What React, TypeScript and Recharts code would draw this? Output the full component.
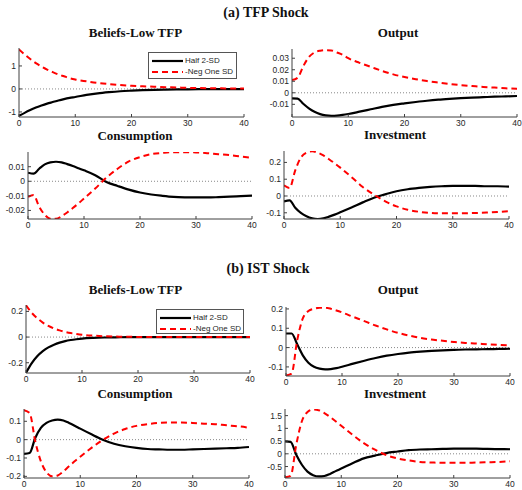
import { LineChart, Line, XAxis, YAxis, ReferenceLine } from 'recharts'

const periods = [0, 1, 2, 3, 4, 5, 6, 7, 8, 9, 10, 12, 14, 16, 18, 20, 22, 24, 26, 28, 30, 32, 34, 36, 38, 40]
const xTicks = [0, 10, 20, 30, 40]

// (a) TFP shock
const tfpBeliefsHalf = [-1.17, -1.04, -0.92, -0.81, -0.72, -0.64, -0.57, -0.5, -0.44, -0.39, -0.35, -0.26, -0.19, -0.14, -0.1, -0.075, -0.055, -0.04, -0.03, -0.022, -0.016, -0.012, -0.009, -0.007, -0.005, -0.004]
const tfpBeliefsNeg = [1.72, 1.5, 1.3, 1.12, 0.97, 0.84, 0.73, 0.63, 0.55, 0.47, 0.41, 0.33, 0.26, 0.21, 0.17, 0.14, 0.115, 0.095, 0.078, 0.064, 0.045, 0.037, 0.03, 0.025, 0.02, 0.016]
const tfpOutputHalf = [-0.0048, -0.005, -0.0095, -0.0135, -0.0165, -0.0185, -0.0196, -0.02, -0.0198, -0.0192, -0.0184, -0.0164, -0.0143, -0.0122, -0.0105, -0.0092, -0.008, -0.0069, -0.006, -0.0053, -0.0047, -0.0042, -0.0038, -0.0034, -0.0031, -0.0028]
const tfpOutputNeg = [0.011, 0.013, 0.023, 0.031, 0.035, 0.0365, 0.037, 0.0368, 0.035, 0.033, 0.03, 0.026, 0.0225, 0.019, 0.016, 0.0137, 0.0118, 0.0102, 0.0089, 0.0077, 0.0067, 0.0059, 0.0051, 0.0045, 0.0039, 0.0034]
const tfpConsHalf = [0.0059, 0.0052, 0.0086, 0.0116, 0.013, 0.0134, 0.013, 0.0118, 0.0105, 0.009, 0.0075, 0.0042, -0.0005, -0.0032, -0.0057, -0.0077, -0.0091, -0.01, -0.0107, -0.011, -0.0111, -0.0111, -0.0109, -0.0106, -0.0102, -0.0098]
const tfpConsNeg = [-0.0107, -0.0095, -0.0175, -0.023, -0.0257, -0.0257, -0.024, -0.0214, -0.0184, -0.0152, -0.0118, -0.005, 0.0025, 0.0086, 0.0136, 0.0166, 0.0186, 0.0195, 0.02, 0.02, 0.0198, 0.0193, 0.0186, 0.018, 0.017, 0.0161]
const tfpInvHalf = [-0.032, -0.026, -0.07, -0.101, -0.121, -0.133, -0.137, -0.133, -0.123, -0.111, -0.097, -0.068, -0.038, -0.01, 0.01, 0.028, 0.04, 0.048, 0.054, 0.058, 0.06, 0.06, 0.06, 0.058, 0.058, 0.056]
const tfpInvNeg = [0.064, 0.048, 0.153, 0.229, 0.258, 0.266, 0.258, 0.242, 0.219, 0.195, 0.169, 0.113, 0.054, 0.008, -0.032, -0.062, -0.082, -0.094, -0.101, -0.103, -0.103, -0.103, -0.101, -0.099, -0.095, -0.09]

// (b) IST shock
const istBeliefsHalf = [-0.279, -0.205, -0.15, -0.11, -0.08, -0.059, -0.043, -0.031, -0.023, -0.017, -0.012, -0.0065, -0.0035, -0.002, -0.001, -0.0005, -0.0003, -0.0002, -0.0001, 0, 0, 0, 0, 0, 0, 0]
const istBeliefsNeg = [0.248, 0.19, 0.147, 0.113, 0.087, 0.067, 0.052, 0.04, 0.031, 0.024, 0.018, 0.011, 0.0065, 0.004, 0.0023, 0.0014, 0.0008, 0.0005, 0.0003, 0.0002, 0.0001, 0, 0, 0, 0, 0]
const istOutputHalf = [0.073, 0.073, 0.017, -0.04, -0.078, -0.099, -0.109, -0.113, -0.111, -0.106, -0.099, -0.083, -0.068, -0.054, -0.042, -0.033, -0.026, -0.021, -0.017, -0.014, -0.012, -0.01, -0.009, -0.008, -0.007, -0.006]
const istOutputNeg = [-0.144, -0.135, 0.038, 0.151, 0.189, 0.201, 0.206, 0.206, 0.201, 0.192, 0.182, 0.159, 0.137, 0.114, 0.094, 0.076, 0.062, 0.05, 0.042, 0.035, 0.029, 0.024, 0.021, 0.017, 0.014, 0.012]
const istConsHalf = [-0.078, -0.073, 0.009, 0.064, 0.091, 0.104, 0.109, 0.104, 0.091, 0.076, 0.06, 0.029, 0.0, -0.022, -0.036, -0.045, -0.051, -0.053, -0.055, -0.055, -0.053, -0.051, -0.049, -0.047, -0.045, -0.04]
const istConsNeg = [0.16, 0.145, -0.009, -0.118, -0.178, -0.2, -0.195, -0.173, -0.145, -0.118, -0.093, -0.045, -0.002, 0.033, 0.058, 0.075, 0.085, 0.091, 0.093, 0.093, 0.091, 0.087, 0.084, 0.078, 0.073, 0.065]
const istInvHalf = [0.49, 0.47, -0.04, -0.43, -0.7, -0.84, -0.89, -0.87, -0.79, -0.68, -0.58, -0.37, -0.18, -0.07, 0.03, 0.09, 0.145, 0.17, 0.18, 0.19, 0.2, 0.2, 0.2, 0.19, 0.185, 0.18]
const istInvNeg = [-0.92, -0.87, 0.355, 1.28, 1.64, 1.74, 1.71, 1.6, 1.45, 1.28, 1.1, 0.75, 0.42, 0.16, -0.05, -0.18, -0.26, -0.32, -0.34, -0.355, -0.355, -0.355, -0.34, -0.33, -0.32, -0.29]

const YW = 40
const MT = 4
const MR = 8
const XH = 18
const tickStyle = { fontSize: 8.5, fill: '#262626', fontFamily: 'Liberation Sans, Arial, sans-serif' }
const titleFont = '"Liberation Serif", "Times New Roman", serif'

type PanelProps = {
  x0: number
  y0: number
  x1: number
  y1: number
  domain: [number, number]
  yTicks: number[]
  half: number[]
  neg: number[]
}

function Panel({ x0, y0, x1, y1, domain, yTicks, half, neg }: PanelProps) {
  const data = periods.map((t, i) => ({ t, half: half[i], neg: neg[i] }))
  const w = x1 - x0 + YW + MR
  const h = y1 - y0 + MT + XH
  return (
    <div style={{ position: 'absolute', left: x0 - YW, top: y0 - MT }}>
      <LineChart width={w} height={h} data={data} margin={{ top: MT, right: MR, left: 0, bottom: 0 }}>
        <XAxis
          dataKey='t'
          type='number'
          domain={[0, 40]}
          ticks={xTicks}
          height={XH}
          tick={tickStyle}
          tickSize={-3}
          tickMargin={6}
          stroke='#404040'
          allowDataOverflow
        />
        <YAxis
          type='number'
          domain={domain}
          ticks={yTicks}
          width={YW}
          tick={tickStyle}
          tickSize={-3}
          tickMargin={6}
          stroke='#404040'
          allowDataOverflow
          interval={0}
        />
        <ReferenceLine y={0} stroke='#888' strokeDasharray='1 2' strokeWidth={1} />
        <Line type='monotone' dataKey='half' stroke='#000' strokeWidth={2.2} dot={false} isAnimationActive={false} />
        <Line type='monotone' dataKey='neg' stroke='#ff0000' strokeWidth={2} strokeDasharray='6 4' dot={false} isAnimationActive={false} />
      </LineChart>
    </div>
  )
}

function Title({ text, cx, cy, size }: { text: string; cx: number; cy: number; size: number }) {
  return (
    <div
      style={{
        position: 'absolute',
        left: cx - 100,
        top: cy - 8,
        width: 200,
        lineHeight: '16px',
        textAlign: 'center',
        fontFamily: titleFont,
        fontWeight: 'bold',
        fontSize: size,
        color: '#111',
        whiteSpace: 'nowrap',
      }}
    >
      {text}
    </div>
  )
}

function LegendBox({ left, top, width, height }: { left: number; top: number; width: number; height: number }) {
  const row = (dash: boolean, color: string, label: string) => (
    <div style={{ display: 'flex', alignItems: 'center', height: 11, whiteSpace: 'nowrap' }}>
      <svg width={31} height={6} style={{ marginRight: 2, flexShrink: 0 }}>
        <line x1={0} y1={3} x2={31} y2={3} stroke={color} strokeWidth={2.2} strokeDasharray={dash ? '6 4' : undefined} />
      </svg>
      <span>{label}</span>
    </div>
  )
  return (
    <div
      style={{
        position: 'absolute',
        left,
        top,
        width,
        height,
        boxSizing: 'border-box',
        border: '1px solid #555',
        background: '#fff',
        padding: '2px 0 0 3px',
        fontFamily: 'Liberation Sans, Arial, sans-serif',
        fontSize: 8,
        color: '#262626',
      }}
    >
      {row(false, '#000', 'Half 2-SD')}
      {row(true, '#ff0000', '-Neg One SD')}
    </div>
  )
}

export default function App() {
  return (
    <div style={{ position: 'absolute', left: 0, top: 0, width: 522, height: 490, background: '#fff', overflow: 'hidden' }}>
      <Title text='(a) TFP Shock' cx={266} cy={12.5} size={14} />
      <Title text='Beliefs-Low TFP' cx={135.5} cy={32.5} size={13} />
      <Title text='Output' cx={398} cy={33} size={13} />
      <Title text='Consumption' cx={135} cy={135.5} size={13} />
      <Title text='Investment' cx={395} cy={135} size={13} />

      <Panel x0={19} y0={48} x1={244} y1={117} domain={[-1.22, 1.78]} yTicks={[-1, 0, 1]} half={tfpBeliefsHalf} neg={tfpBeliefsNeg} />
      <Panel x0={292} y0={49} x1={517} y1={117} domain={[-0.021, 0.038]} yTicks={[-0.01, 0, 0.01, 0.02, 0.03]} half={tfpOutputHalf} neg={tfpOutputNeg} />
      <Panel x0={28} y0={152} x1={252} y1={219} domain={[-0.0259, 0.0201]} yTicks={[-0.02, -0.01, 0, 0.01]} half={tfpConsHalf} neg={tfpConsNeg} />
      <Panel x0={284} y0={151} x1={509} y1={219} domain={[-0.137, 0.268]} yTicks={[-0.1, 0, 0.1, 0.2]} half={tfpInvHalf} neg={tfpInvNeg} />
      <LegendBox left={148} top={52} width={89} height={27} />

      <Title text='(b) IST Shock' cx={268} cy={269} size={14} />
      <Title text='Beliefs-Low TFP' cx={135.5} cy={290} size={13} />
      <Title text='Output' cx={398} cy={290} size={13} />
      <Title text='Consumption' cx={135} cy={394} size={13} />
      <Title text='Investment' cx={395} cy={394} size={13} />

      <Panel x0={26} y0={305} x1={250} y1={373} domain={[-0.28, 0.25]} yTicks={[-0.2, 0, 0.2]} half={istBeliefsHalf} neg={istBeliefsNeg} />
      <Panel x0={286} y0={307} x1={510} y1={376} domain={[-0.147, 0.21]} yTicks={[-0.1, 0, 0.1, 0.2]} half={istOutputHalf} neg={istOutputNeg} />
      <Panel x0={24} y0={409} x1={249} y1={478} domain={[-0.209, 0.167]} yTicks={[-0.2, -0.1, 0, 0.1]} half={istConsHalf} neg={istConsNeg} />
      <Panel x0={285} y0={409} x1={510} y1={478} domain={[-0.95, 1.76]} yTicks={[-0.5, 0, 0.5, 1, 1.5]} half={istInvHalf} neg={istInvNeg} />
      <LegendBox left={156} top={309} width={88} height={25} />
    </div>
  )
}
